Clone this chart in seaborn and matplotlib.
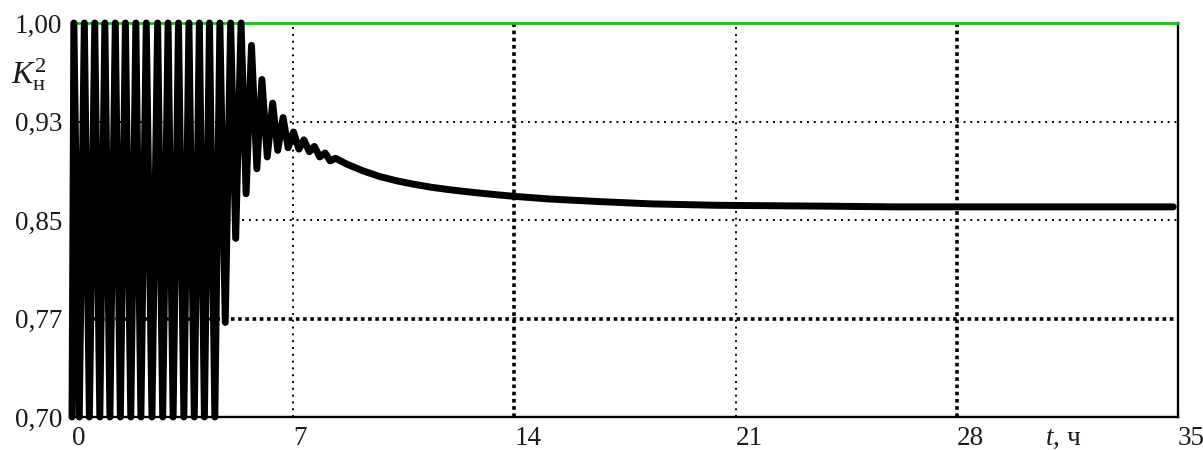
import numpy as np
import pandas as pd
import seaborn as sns
import matplotlib.pyplot as plt

# values (t in hours, K_n^2)
t_h = [0.00, 0.06, 0.23, 0.39, 0.55, 0.72, 0.88, 1.04, 1.20, 1.37,
       1.53, 1.69, 1.86, 2.02, 2.18, 2.35, 2.53, 2.71, 2.87, 3.04,
       3.20, 3.37, 3.54, 3.70, 3.87, 4.03, 4.19, 4.35, 4.52, 4.68,
       4.85, 5.02, 5.18, 5.35, 5.51, 5.68, 5.85, 6.01, 6.18, 6.35,
       6.51, 6.68, 6.84, 7.01, 7.18, 7.34, 7.51, 7.67, 7.84, 8.01,
       8.17, 8.34, 8.70, 9.20, 9.75, 10.30, 10.80, 11.35, 11.90, 12.40,
       12.90, 13.45, 14.00, 15.10, 16.70, 18.30, 20.40, 24.00, 26.00, 30.00,
       34.85]
k_n2 = [0.700, 1.000, 0.700, 1.000, 0.700, 1.000, 0.700, 1.000, 0.700, 1.000,
        0.700, 1.000, 0.700, 1.000, 0.700, 1.000, 0.700, 1.000, 0.700, 1.000,
        0.700, 1.000, 0.700, 1.000, 0.700, 1.000, 0.700, 1.000, 0.700, 1.000,
        0.772, 1.000, 0.836, 1.000, 0.870, 0.983, 0.889, 0.957, 0.898, 0.939,
        0.903, 0.928, 0.905, 0.917, 0.904, 0.911, 0.902, 0.906, 0.898, 0.901,
        0.895, 0.897, 0.8925, 0.8875, 0.8830, 0.8797, 0.8773, 0.8750, 0.8732, 0.8718,
        0.8705, 0.8692, 0.8680, 0.8660, 0.8640, 0.8623, 0.8612, 0.8605, 0.8600, 0.8600,
        0.8600]

# green reference line K = 1
top_t = [0, 35]
top_k = [1.0, 1.0]

x_ticks = [0, 7, 14, 21, 28, 35]
x_labels = ['0', '7', '14', '21', '28', '35']
y_ticks = [0.70, 0.775, 0.85, 0.925, 1.00]
y_labels = ['0,70', '0,77', '0,85', '0,93', '1,00']
thick_x = [14, 28]
thick_y = [0.775]

sns.set_theme(style='white')
plt.rcParams['font.family'] = ['Liberation Serif', 'DejaVu Serif']
plt.rcParams['mathtext.fontset'] = 'custom'
plt.rcParams['mathtext.rm'] = 'Liberation Serif'
plt.rcParams['mathtext.it'] = 'Liberation Serif:italic'

fig = plt.figure(figsize=(12.03, 4.5), dpi=100)
ax = fig.add_axes([72 / 1203, 1 - 417 / 450, (1178 - 72) / 1203, (417 - 23) / 450])

df = pd.DataFrame({'t': t_h, 'k': k_n2})

# dotted grid
for x in x_ticks[1:-1]:
    if x in thick_x:
        ax.axvline(x, color='black', lw=2.6, ls=(0, (1, 1)), zorder=1)
    else:
        ax.axvline(x, color='black', lw=1.4, ls=(0, (1, 2.5)), zorder=1)
for y in y_ticks[1:-1]:
    if y in thick_y:
        ax.axhline(y, color='black', lw=2.6, ls=(0, (1, 1)), zorder=1)
    else:
        ax.axhline(y, color='black', lw=1.4, ls=(0, (1, 2.5)), zorder=1)

sns.lineplot(x=top_t, y=top_k, color='#00d000', linewidth=2.0, ax=ax,
             clip_on=False, zorder=4)
sns.lineplot(data=df, x='t', y='k', sort=False, estimator=None, color='black',
             linewidth=5.0, ax=ax, clip_on=False, zorder=5,
             solid_joinstyle='round', solid_capstyle='round')

ax.set_xlim(0, 35)
ax.set_ylim(0.70, 1.00)
ax.set_xticks(x_ticks)
ax.set_xticklabels(x_labels)
ax.set_yticks(y_ticks)
ax.set_yticklabels(y_labels)
ax.set_xlabel('')
ax.set_ylabel('')
ax.tick_params(axis='both', length=0, labelsize=19.5, colors='#1a1a1a')
ax.tick_params(axis='x', pad=6.5)
ax.tick_params(axis='y', pad=7)
for lab in ax.get_xticklabels():
    lab.set_horizontalalignment('left')

for side in ['left', 'bottom', 'right']:
    ax.spines[side].set_color('black')
    ax.spines[side].set_linewidth(1.7)
ax.spines['top'].set_visible(False)

fig.text(0.009, 0.835, r'$K_{\mathrm{н}}^{2}$', fontsize=23, color='#1a1a1a',
         ha='left', va='center')
fig.text(1045 / 1203, 1 - 445 / 450, r'$t$, ч', fontsize=19.5, color='#1a1a1a',
         ha='left', va='baseline')

fig.savefig('out.png', dpi=100, facecolor='white')
